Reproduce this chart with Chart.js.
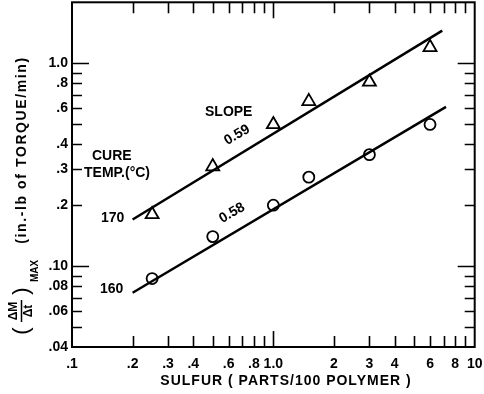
<!DOCTYPE html>
<html>
<head>
<meta charset="utf-8">
<script src="https://cdn.jsdelivr.net/npm/chart.js@4.4.1/dist/chart.umd.min.js"></script>
<style>
  html, body { margin: 0; padding: 0; background: #fff; overflow: hidden; }
  /* Chart.js keeps ~7px above the plot; lift the canvas so the frame sits at the top */
  #wrap { position: relative; top: -7px; width: 484px; height: 401px; }
</style>
</head>
<body>
<div id="wrap"><canvas id="chart-cure"></canvas></div>
<script>
// sulfur level (parts / 100 polymer)
const sulfur = [0.25, 0.5, 1.0, 1.5, 3, 6];
// (dM/dt)max, in.-lb of torque / min
const rate170 = [0.18, 0.31, 0.50, 0.65, 0.81, 1.2];
const rate160 = [0.087, 0.14, 0.20, 0.275, 0.355, 0.50];
// fitted lines (end points)
const fitX170 = [0.2, 6.9];
const fitY170 = [0.17, 1.45];
const fitX160 = [0.2, 7.2];
const fitY160 = [0.074, 0.61];

const xTickVals = [0.1, 0.2, 0.3, 0.4, 0.5, 0.6, 0.7, 0.8, 0.9, 1, 2, 3, 4, 5, 6, 7, 8, 9, 10];
const xTickLabels = ['.1', '.2', '.3', '.4', '', '.6', '', '.8', '', '1.0', '2', '3', '4', '', '6', '', '8', '', '10'];
const yTickVals = [0.04, 0.05, 0.06, 0.07, 0.08, 0.09, 0.1, 0.2, 0.3, 0.4, 0.5, 0.6, 0.7, 0.8, 0.9, 1];
const yTickLabels = ['.04', '', '.06', '', '.08', '', '.10', '.2', '.3', '.4', '', '.6', '', '.8', '', '1.0'];

const FONT = '"Liberation Sans", Arial, sans-serif';
const SHIFT = 7; // same as the css lift of #wrap

function pts(xs, ys) { return xs.map((v, i) => ({ x: v, y: ys[i] })); }

// frame + inward tick marks on all four sides, y tick labels
const framePlugin = {
  id: 'frame',
  afterDraw(chart) {
    const { ctx, chartArea: a, scales: { x, y } } = chart;
    ctx.save();
    ctx.strokeStyle = '#000';
    ctx.lineWidth = 2;
    ctx.strokeRect(a.left, a.top, a.right - a.left, a.bottom - a.top);
    ctx.lineWidth = 1.6;
    ctx.beginPath();
    xTickVals.forEach(v => {
      if (v === 0.1 || v === 10) return;
      const px = Math.round(x.getPixelForValue(v)) + 0.5;
      const len = v === 1 ? 16 : 11;
      ctx.moveTo(px, a.bottom); ctx.lineTo(px, a.bottom - len);
      ctx.moveTo(px, a.top); ctx.lineTo(px, a.top + len);
    });
    yTickVals.forEach(v => {
      if (v === 0.04) return;
      const py = Math.round(y.getPixelForValue(v)) + 0.5;
      const len = (v === 1 || v === 0.1) ? 17 : 10;
      ctx.moveTo(a.left, py); ctx.lineTo(a.left + len, py);
      ctx.moveTo(a.right, py); ctx.lineTo(a.right - len, py);
    });
    ctx.stroke();

    ctx.fillStyle = '#000';
    ctx.font = 'bold 14px ' + FONT;
    ctx.textAlign = 'right';
    ctx.textBaseline = 'middle';
    yTickVals.forEach((v, i) => {
      if (yTickLabels[i]) ctx.fillText(yTickLabels[i], a.left - 4, y.getPixelForValue(v));
    });
    ctx.restore();
  }
};

// text labels on the plot and the two axis titles (page coordinates)
const textPlugin = {
  id: 'texts',
  afterDraw(chart) {
    const ctx = chart.ctx;
    ctx.save();
    ctx.translate(0, SHIFT);
    ctx.fillStyle = '#000';
    ctx.strokeStyle = '#000';
    ctx.textBaseline = 'middle';
    ctx.font = 'bold 14px ' + FONT;
    ctx.textAlign = 'left';
    ctx.fillText('SLOPE', 205, 112);
    ctx.fillText('CURE', 92, 156);
    ctx.fillText('TEMP.(\u00B0C)', 84, 173);
    ctx.fillText('170', 101, 218);
    ctx.fillText('160', 100, 289);

    ctx.textAlign = 'center';
    [[237, 135, '0.59'], [232, 213, '0.58']].forEach(([cx, cy, t]) => {
      ctx.save();
      ctx.translate(cx, cy);
      ctx.rotate(-Math.PI / 6);
      ctx.fillText(t, 0, 0);
      ctx.restore();
    });

    // x title
    ctx.letterSpacing = '1px';
    ctx.fillText('SULFUR ( PARTS/100 POLYMER )', 286, 381);

    // y title, rotated: screen (sx, sy) -> (-sy, sx)
    ctx.rotate(-Math.PI / 2);
    ctx.letterSpacing = '0px';
    ctx.font = '22px ' + FONT;
    ctx.fillText('(', -331, 22);
    ctx.fillText(')', -291, 22);
    ctx.font = 'bold 12px ' + FONT;
    ctx.fillText('\u0394M', -311, 14);
    ctx.fillText('\u0394t', -311, 29);
    ctx.lineWidth = 1.5;
    ctx.beginPath();
    ctx.moveTo(-322, 21.5); ctx.lineTo(-300, 21.5);
    ctx.stroke();
    ctx.font = 'bold 10px ' + FONT;
    ctx.fillText('MAX', -271, 35);
    ctx.font = 'bold 14px ' + FONT;
    ctx.letterSpacing = '1.6px';
    ctx.fillText('(in.-lb of TORQUE/min)', -150, 22);
    ctx.restore();
  }
};

document.addEventListener('DOMContentLoaded', function() {
  const ctx = document.getElementById('chart-cure');
  new Chart(ctx, {
    type: 'scatter',
    data: {
      datasets: [
        {
          label: '170',
          data: pts(sulfur, rate170),
          pointStyle: 'triangle',
          pointRadius: 7.5,
          backgroundColor: 'rgba(0,0,0,0)',
          borderColor: '#000',
          borderWidth: 1.8
        },
        {
          label: '160',
          data: pts(sulfur, rate160),
          pointStyle: 'circle',
          pointRadius: 5.5,
          backgroundColor: 'rgba(0,0,0,0)',
          borderColor: '#000',
          borderWidth: 1.8
        },
        {
          label: 'fit 170',
          type: 'line',
          data: pts(fitX170, fitY170),
          showLine: true,
          pointRadius: 0,
          borderColor: '#000',
          borderWidth: 2.5
        },
        {
          label: 'fit 160',
          type: 'line',
          data: pts(fitX160, fitY160),
          showLine: true,
          pointRadius: 0,
          borderColor: '#000',
          borderWidth: 2.5
        }
      ]
    },
    options: {
      responsive: true,
      maintainAspectRatio: false,
      animation: false,
      layout: { padding: { left: 0, right: 6, top: 2, bottom: 0 } },
      plugins: { legend: { display: false }, tooltip: { enabled: false } },
      scales: {
        x: {
          type: 'logarithmic',
          min: 0.1,
          max: 10,
          border: { display: false },
          grid: { display: false, drawTicks: false },
          afterBuildTicks: s => { s.ticks = xTickVals.map(v => ({ value: v })); },
          afterFit: s => { s.height = 47; s.paddingLeft = 0; s.paddingRight = 0; },
          ticks: {
            autoSkip: false,
            maxRotation: 0,
            padding: 9,
            color: '#000',
            font: { family: FONT, size: 14, weight: 'bold' },
            callback: (v, i) => xTickLabels[i]
          }
        },
        y: {
          type: 'logarithmic',
          min: 0.04,
          max: 2.0,
          border: { display: false },
          grid: { display: false, drawTicks: false },
          afterBuildTicks: s => { s.ticks = yTickVals.map(v => ({ value: v })); },
          afterFit: s => { s.width = 72; },
          ticks: { display: false }
        }
      }
    },
    plugins: [framePlugin, textPlugin]
  });
});
</script>
</body>
</html>
